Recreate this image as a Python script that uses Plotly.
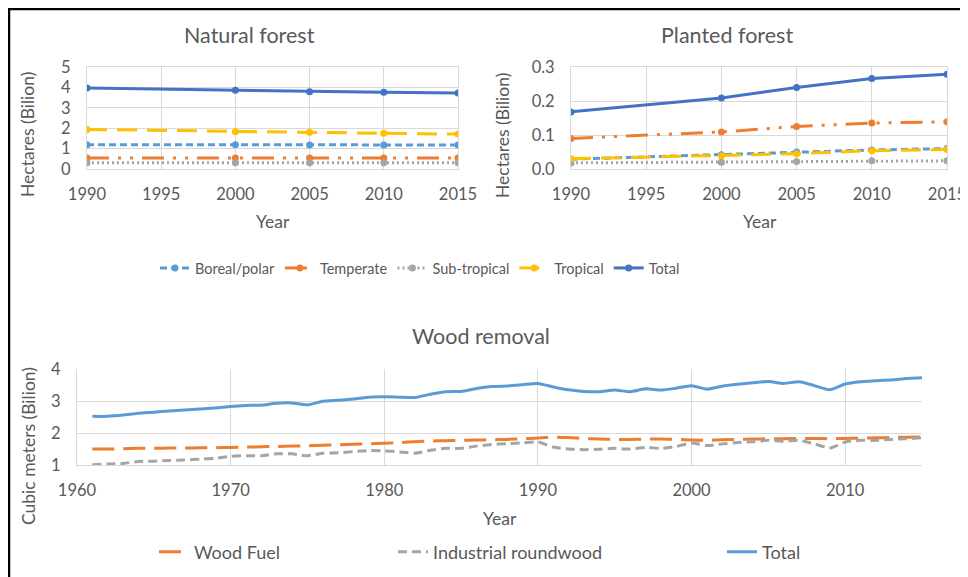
import plotly.graph_objects as go

# ---------------- data ----------------
forest_years = [1990, 2000, 2005, 2010, 2015]

nat_boreal = [1.19, 1.19, 1.18, 1.18, 1.18]
nat_temperate = [0.54, 0.54, 0.54, 0.54, 0.54]
nat_subtropical = [0.31, 0.31, 0.31, 0.31, 0.31]
nat_tropical = [1.94, 1.83, 1.80, 1.75, 1.71]
nat_total = [3.97, 3.86, 3.79, 3.76, 3.72]

pl_boreal = [0.029, 0.042, 0.050, 0.056, 0.060]
pl_temperate = [0.090, 0.109, 0.125, 0.135, 0.139]
pl_subtropical = [0.018, 0.020, 0.022, 0.024, 0.024]
pl_tropical = [0.030, 0.039, 0.045, 0.054, 0.057]
pl_total = [0.168, 0.209, 0.240, 0.266, 0.279]

wood_years = list(range(1961, 2016))
wood_fuel = [1.50, 1.50, 1.51, 1.52, 1.52, 1.53, 1.53, 1.54, 1.54, 1.55,
             1.56, 1.57, 1.58, 1.59, 1.60, 1.62, 1.63, 1.65, 1.66, 1.68,
             1.70, 1.73, 1.75, 1.76, 1.77, 1.78, 1.79, 1.80, 1.82, 1.84,
             1.87, 1.86, 1.83, 1.81, 1.80, 1.80, 1.81, 1.81, 1.80, 1.78,
             1.77, 1.79, 1.80, 1.81, 1.82, 1.82, 1.83, 1.83, 1.82, 1.83,
             1.84, 1.85, 1.86, 1.87, 1.88]
industrial = [1.01, 1.03, 1.05, 1.11, 1.12, 1.14, 1.16, 1.18, 1.21, 1.27,
              1.29, 1.29, 1.35, 1.35, 1.29, 1.37, 1.38, 1.42, 1.45, 1.44,
              1.41, 1.37, 1.46, 1.52, 1.52, 1.59, 1.64, 1.67, 1.69, 1.72,
              1.56, 1.50, 1.48, 1.49, 1.52, 1.50, 1.55, 1.52, 1.58, 1.69,
              1.61, 1.66, 1.70, 1.73, 1.77, 1.74, 1.77, 1.66, 1.53, 1.72,
              1.77, 1.77, 1.80, 1.82, 1.85]
wood_total = [2.52, 2.52, 2.56, 2.62, 2.65, 2.69, 2.72, 2.75, 2.78, 2.83,
              2.86, 2.87, 2.93, 2.94, 2.88, 2.99, 3.02, 3.06, 3.12, 3.13,
              3.12, 3.11, 3.21, 3.29, 3.30, 3.39, 3.45, 3.47, 3.51, 3.55,
              3.44, 3.35, 3.30, 3.29, 3.34, 3.29, 3.38, 3.34, 3.40, 3.48,
              3.37, 3.46, 3.52, 3.57, 3.61, 3.55, 3.60, 3.48, 3.35, 3.53,
              3.60, 3.63, 3.66, 3.70, 3.73]

forest_names = ["Boreal/polar", "Temperate", "Sub-tropical", "Tropical", "Total"]
wood_names = ["Wood Fuel", "Industrial roundwood", "Total"]

# ---------------- styling ----------------
# page body has an 8px margin, so the figure is 8px smaller and all
# reference pixel positions are shifted by 8px
OFF = 8
W, H = 968 - OFF, 577 - OFF
FONT = "Lato"
TXT = "#595959"
GRID = "#D9D9D9"

c_blue = "#5B9BD5"
c_orange = "#ED7D31"
c_grey = "#A5A5A5"
c_gold = "#FFC000"
c_dblue = "#4472C4"

forest_styles = [
    dict(color=c_blue, dash="7px,4px"),
    dict(color=c_orange, dash="22px,9px,3px,9px,3px,9px"),
    dict(color=c_grey, dash="2px,3px"),
    dict(color=c_gold, dash="20px,10px"),
    dict(color=c_dblue, dash="solid"),
]
wood_leg_x = [194, 433, 762]


def px_x(p):
    return (p - OFF) / W


def px_y(p):
    return 1 - (p - OFF) / H


fig = go.Figure()

nat_series = [nat_boreal, nat_temperate, nat_subtropical, nat_tropical, nat_total]
pl_series = [pl_boreal, pl_temperate, pl_subtropical, pl_tropical, pl_total]

for i, (name, vals) in enumerate(zip(forest_names, nat_series)):
    st = forest_styles[i]
    fig.add_trace(go.Scatter(
        x=forest_years, y=vals, name=name, mode="lines+markers",
        line=dict(color=st["color"], dash=st["dash"], width=3),
        marker=dict(color=st["color"], size=7),
        xaxis="x", yaxis="y", legend="legend", showlegend=True))

for i, (name, vals) in enumerate(zip(forest_names, pl_series)):
    st = forest_styles[i]
    fig.add_trace(go.Scatter(
        x=forest_years, y=vals, name=name, mode="lines+markers",
        line=dict(color=st["color"], dash=st["dash"], width=3),
        marker=dict(color=st["color"], size=7),
        xaxis="x2", yaxis="y2", showlegend=False))

wood_series = [wood_fuel, industrial, wood_total]
wood_styles = [
    dict(color=c_orange, dash="22px,9px"),
    dict(color=c_grey, dash="9px,5px"),
    dict(color=c_blue, dash="solid"),
]
wood_legends = ["legend2", "legend3", "legend4"]
for i, (name, vals) in enumerate(zip(wood_names, wood_series)):
    st = wood_styles[i]
    fig.add_trace(go.Scatter(
        x=wood_years, y=vals, name=name, mode="lines",
        line=dict(color=st["color"], dash=st["dash"], width=3, shape="spline", smoothing=0.6),
        xaxis="x3", yaxis="y3", legend=wood_legends[i], showlegend=True))

tickfont = dict(family=FONT, size=16.5, color=TXT)

common_x = dict(showgrid=True, gridcolor=GRID, gridwidth=1, zeroline=False,
                ticks="outside", ticklen=10, tickcolor="rgba(0,0,0,0)",
                tickfont=tickfont, showline=True, linecolor=GRID, linewidth=1)
common_y = dict(showgrid=True, gridcolor=GRID, gridwidth=1, zeroline=False,
                ticks="outside", ticklen=12, tickcolor="rgba(0,0,0,0)",
                tickfont=tickfont, showline=True, linecolor=GRID, linewidth=1)

layout_legends = {
    "legend": dict(orientation="h", x=px_x(420), xanchor="center",
                   y=px_y(268), yanchor="middle",
                   font=dict(family=FONT, size=14.5, color=TXT),
                   bgcolor="rgba(0,0,0,0)")
}
for i, lg in enumerate(wood_legends):
    layout_legends[lg] = dict(orientation="h", x=px_x(wood_leg_x[i] - 40), xanchor="left",
                              y=px_y(552), yanchor="middle",
                              font=dict(family=FONT, size=18, color=TXT),
                              bgcolor="rgba(0,0,0,0)")

fig.update_layout(
    width=W, height=H,
    margin=dict(l=0, r=0, t=0, b=0, autoexpand=False),
    paper_bgcolor="white", plot_bgcolor="white",
    font=dict(family=FONT, color=TXT),
    xaxis=dict(common_x, domain=[px_x(87), px_x(458)], range=[1990, 2015],
               tickvals=[1990, 1995, 2000, 2005, 2010, 2015], mirror=True, anchor="y"),
    yaxis=dict(common_y, domain=[px_y(169), px_y(67)], range=[0, 5], dtick=1,
               mirror=True, anchor="x"),
    xaxis2=dict(common_x, domain=[px_x(571), px_x(947)], range=[1990, 2015],
                tickvals=[1990, 1995, 2000, 2005, 2010, 2015], mirror=True, anchor="y2"),
    yaxis2=dict(common_y, domain=[px_y(169), px_y(67)], range=[0, 0.3], dtick=0.1,
                tickformat=".1f", mirror=True, anchor="x2"),
    xaxis3=dict(common_x, domain=[px_x(77), px_x(922)], range=[1960, 2015],
                tickvals=[1960, 1970, 1980, 1990, 2000, 2010], anchor="y3"),
    yaxis3=dict(common_y, domain=[px_y(465), px_y(369)], range=[1, 4], dtick=1,
                anchor="x3"),
    **layout_legends,
)

annos = [
    dict(text="Natural forest", x=px_x(249), y=px_y(35), size=21.5),
    dict(text="Planted forest", x=px_x(727), y=px_y(35), size=21.5),
    dict(text="Wood removal", x=px_x(481), y=px_y(336), size=21.5),
    dict(text="Year", x=px_x(273), y=px_y(221), size=17.5),
    dict(text="Year", x=px_x(760), y=px_y(221), size=17.5),
    dict(text="Year", x=px_x(500), y=px_y(518), size=17.5),
]
for a in annos:
    fig.add_annotation(text=a["text"], x=a["x"], y=a["y"], xref="paper", yref="paper",
                       showarrow=False, xanchor="center", yanchor="middle",
                       font=dict(family=FONT, size=a["size"], color=TXT))

for txt, xx, yy in [("Hectares (Bilion)", 27, 135), ("Hectares (Bilion)", 502, 135),
                    ("Cubic meters (Bilion)", 28, 446)]:
    fig.add_annotation(text=txt, x=px_x(xx), y=px_y(yy), xref="paper", yref="paper",
                       showarrow=False, xanchor="center", yanchor="middle", textangle=-90,
                       font=dict(family=FONT, size=17.5, color=TXT))

# outer frame
fig.add_shape(type="rect", xref="paper", yref="paper",
              x0=px_x(9), x1=px_x(967), y0=-0.05, y1=px_y(9),
              line=dict(color="black", width=2.5), fillcolor="rgba(0,0,0,0)")

fig.write_html("out.html")
